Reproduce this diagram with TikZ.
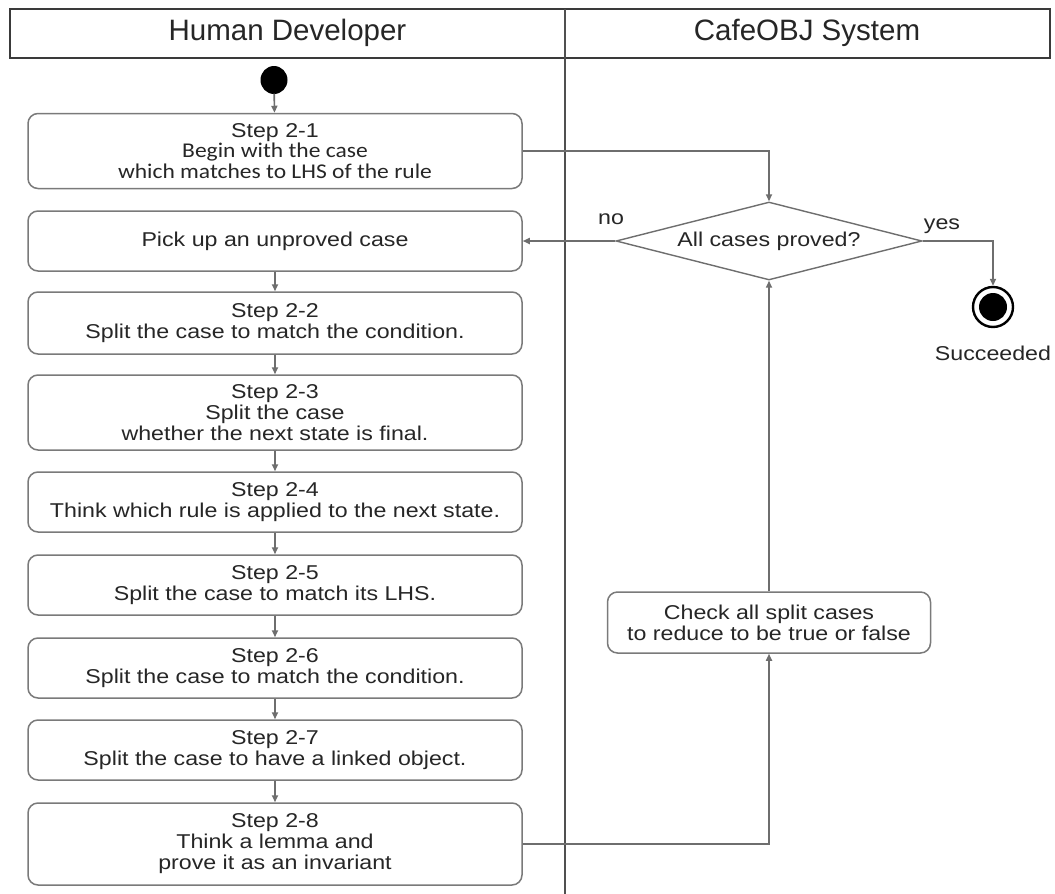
\documentclass[tikz,border=0pt]{standalone}
\usepackage{fontspec}
\usetikzlibrary{arrows.meta,shapes.geometric}
\setmainfont{Liberation Sans}
\newfontfamily\boxfont{Liberation Sans}[FakeStretch=1.16]
\newfontfamily\calfont{Carlito}[FakeStretch=1.12]
\definecolor{linegray}{HTML}{6E6E6E}
\definecolor{boxgray}{HTML}{7A7A7A}
\definecolor{lanegray}{HTML}{505050}
\definecolor{headgray}{HTML}{3A3A3A}
\definecolor{textgray}{HTML}{262626}
\tikzset{
  x=1pt, y=-1pt,
  stepbox/.style={draw=boxgray, line width=1.5pt, rounded corners=10pt,
    minimum width=494pt, align=center, inner sep=0pt, text=textgray,
    font=\boxfont\fontsize{20}{21}\selectfont},
  decision/.style={draw=linegray, line width=1.4pt, diamond, aspect=3.9,
    inner sep=0pt, minimum width=306pt, minimum height=78pt, text=textgray,
    font=\boxfont\fontsize{20}{21}\selectfont},
  lbl/.style={text=textgray, inner sep=0pt, font=\boxfont\fontsize{20}{21}\selectfont},
  flow/.style={draw=linegray, line width=1.6pt,
    -{Triangle[length=7pt,width=6pt]}},
  headtext/.style={text=textgray, font=\fontsize{29.5}{31}\selectfont}
}
\newcommand{\calline}[1]{{\calfont\fontsize{21}{21}\selectfont #1}}
\begin{document}
\begin{tikzpicture}
\useasboundingbox (0,0) rectangle (1055,894);
\fill[white] (0,0) rectangle (1055,894);

% swimlane header and divider
\draw[draw=headgray, line width=2.5pt] (10,9) rectangle (1050,58);
\draw[draw=lanegray, line width=2pt] (565,9) -- (565,894);
\node[headtext] (laneA) at (287.5,33) {Human Developer};
\node[headtext] (laneB) at (807,33) {CafeOBJ System};

% initial and final states
\fill[black] (274,80) ellipse [x radius=13.5, y radius=14];
\node[circle, inner sep=0pt, minimum size=27pt] (init) at (274,80) {};
\node[circle, draw=black, line width=2.4pt, fill=white, minimum size=40pt, inner sep=0pt] (final) at (993,307) {};
\fill[black] (final.center) circle (14);
\node[lbl] (succ) at (993,353) {Succeeded};

% developer activities
\node[stepbox, minimum height=75pt] (s21) at (275,151) {Step 2-1\\[-1pt]\calline{Begin with the case}\\\calline{which matches to LHS of the rule}};
\node[stepbox, minimum height=60pt] (pick) at (275,241) {Pick up an unproved case};
\node[stepbox, minimum height=62pt] (s22) at (275,323) {Step 2-2\\Split the case to match the condition.};
\node[stepbox, minimum height=75pt] (s23) at (275,412.5) {Step 2-3\\Split the case\\whether the next state is final.};
\node[stepbox, minimum height=60pt] (s24) at (275,502) {Step 2-4\\Think which rule is applied to the next state.};
\node[stepbox, minimum height=60pt] (s25) at (275,585) {Step 2-5\\Split the case to match its LHS.};
\node[stepbox, minimum height=60pt] (s26) at (275,668) {Step 2-6\\Split the case to match the condition.};
\node[stepbox, minimum height=60pt] (s27) at (275,750) {Step 2-7\\Split the case to have a linked object.};
\node[stepbox, minimum height=82pt] (s28) at (275,844) {Step 2-8\\Think a lemma and\\prove it as an invariant};

% system activities
\node[decision] (dec) at (769,241) {All cases proved?};
\node[stepbox, minimum width=323pt, minimum height=61pt] (check) at (769,622.5) {Check all split cases\\to reduce to be true or false};
\node[lbl] (no) at (611,219) {no};
\node[lbl] (yes) at (942,226) {yes};

% control flow
\draw[flow] (init) -- (s21);
\draw[flow] (s21.east) -| (dec.north);
\draw[flow] (dec.west) -- (pick.east);
\draw[flow] (dec.east) -| (final.north);
\draw[flow] (pick) -- (s22);
\draw[flow] (s22) -- (s23);
\draw[flow] (s23) -- (s24);
\draw[flow] (s24) -- (s25);
\draw[flow] (s25) -- (s26);
\draw[flow] (s26) -- (s27);
\draw[flow] (s27) -- (s28);
\draw[flow] (s28.east) -| (check.south);
\draw[flow] (check.north) -- (dec.south);
\end{tikzpicture}
\end{document}
